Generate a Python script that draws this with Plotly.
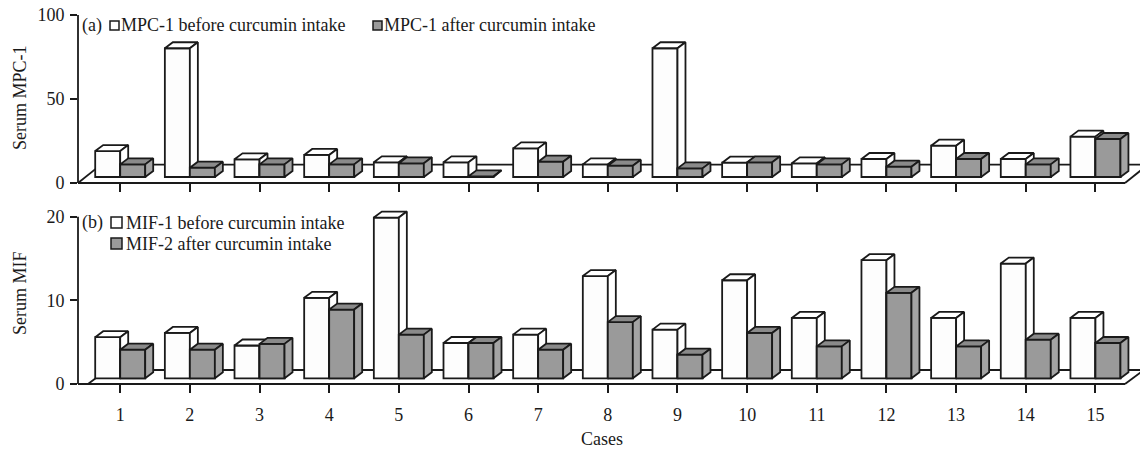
import plotly.graph_objects as go

# ---------------- data ----------------
cases = list(range(1, 16))
case_labels = [str(c) for c in cases]

mpc_before = [19.0, 80.2, 14.1, 16.7, 12.3, 12.3, 20.6, 11.1, 80.2, 12.1, 11.7, 14.3, 22.2, 14.3, 27.6]
mpc_after = [11.1, 9.1, 11.1, 11.1, 11.7, 4.0, 12.7, 10.3, 8.7, 12.3, 11.1, 9.7, 14.3, 11.1, 26.2]
mif_before = [5.6, 6.1, 4.6, 10.3, 19.9, 4.9, 5.9, 12.9, 6.5, 12.4, 7.9, 14.8, 7.9, 14.4, 7.9]
mif_after = [4.1, 4.1, 4.8, 8.9, 5.9, 4.9, 4.1, 7.4, 3.5, 6.1, 4.5, 10.9, 4.5, 5.3, 4.9]

mpc_ticks = [0, 50, 100]
mif_ticks = [0, 10, 20]

# ---------------- style / geometry ----------------
PAGE_OFF = 0          # body margin removed by the post script below
WIN_W, WIN_H = 1140, 449
W, H = WIN_W - PAGE_OFF, WIN_H - PAGE_OFF

FONT = "Liberation Serif"
INK = "#1a1a1a"
WHITE = "#fdfdfd"
GRAY_FRONT = "#9a9a9a"
GRAY_TOP = "#8a8a8a"
GRAY_SIDE = "#a4a4a4"
LW = 1.8

# window-pixel layout constants
AX_X = 78.0          # y axis
CASE1_PX = 120.2     # case 1
CASE_STEP = 69.66    # pixels per case
BAR_PX = 25.0        # front face width of one bar
DEPTH_DX, DEPTH_DY = 8.0, 6.0
FLOOR_RIGHT_PX = 1125.0

x_lo = 1 - (CASE1_PX - AX_X) / CASE_STEP
x_hi = 1 + (WIN_W - CASE1_PX) / CASE_STEP
bw = BAR_PX / CASE_STEP
ddx = DEPTH_DX / CASE_STEP


def px(xp):
    return (xp - PAGE_OFF) / W


def py(yp):
    return 1 - (yp - PAGE_OFF) / H


panels = [
    dict(xa="x", ya="y", before=mpc_before, after=mpc_after, ticks=mpc_ticks,
         zero_px=183.0, topval_px=15.0, dom_top_px=15.0, base_px=6.0,
         floor_left_px=78.0, floor_dx=23.0, floor_dy=18.4, labels=False),
    dict(xa="x2", ya="y2", before=mif_before, after=mif_after, ticks=mif_ticks,
         zero_px=384.0, topval_px=216.7, dom_top_px=200.0, base_px=5.7,
         floor_left_px=88.0, floor_dx=18.7, floor_dy=14.0, labels=True),
]

fig = go.Figure()
shapes = []
annotations = []
layout_axes = {}


def add_poly(xs, ys, pts):
    for a, b in pts + [pts[0]]:
        xs.append(a)
        ys.append(b)
    xs.append(None)
    ys.append(None)


for k, p in enumerate(panels):
    ppu = (p["zero_px"] - p["topval_px"]) / p["ticks"][-1]
    y_top = (p["zero_px"] - p["dom_top_px"]) / ppu
    base = p["base_px"] / ppu
    ddy = DEPTH_DY / ppu
    xa, ya = p["xa"], p["ya"]
    before, after = p["before"], p["after"]

    # front faces as real bars
    fig.add_trace(go.Bar(
        x=cases, y=[v - base for v in before], base=base, width=bw, offset=-bw,
        marker=dict(color=WHITE, line=dict(color=INK, width=LW)),
        xaxis=xa, yaxis=ya, showlegend=False, hoverinfo="x+y",
        name="before curcumin intake"))
    fig.add_trace(go.Bar(
        x=cases, y=[v - base for v in after], base=base, width=bw, offset=0,
        marker=dict(color=GRAY_FRONT, line=dict(color=INK, width=LW)),
        xaxis=xa, yaxis=ya, showlegend=False, hoverinfo="x+y",
        name="after curcumin intake"))

    # 3-D faces, painter order
    groups = {"wt": ([], []), "ws": ([], []), "gf": ([], []), "gt": ([], []), "gs": ([], [])}
    for c, tw, tg in zip(cases, before, after):
        xl, xr, xg = c - bw, c, c + bw
        add_poly(*groups["wt"], [(xl, tw), (xr, tw), (xr + ddx, tw + ddy), (xl + ddx, tw + ddy)])
        add_poly(*groups["ws"], [(xr, base), (xr + ddx, base + ddy), (xr + ddx, tw + ddy), (xr, tw)])
        add_poly(*groups["gf"], [(xr, base), (xg, base), (xg, tg), (xr, tg)])
        add_poly(*groups["gt"], [(xr, tg), (xg, tg), (xg + ddx, tg + ddy), (xr + ddx, tg + ddy)])
        add_poly(*groups["gs"], [(xg, base), (xg + ddx, base + ddy), (xg + ddx, tg + ddy), (xg, tg)])
    fills = {"wt": "#ffffff", "ws": "#ffffff", "gf": GRAY_FRONT, "gt": GRAY_TOP, "gs": GRAY_SIDE}
    for key in ["wt", "ws", "gf", "gt", "gs"]:
        xs, ys = groups[key]
        fig.add_trace(go.Scatter(
            x=xs, y=ys, mode="lines", fill="toself", fillcolor=fills[key],
            line=dict(color=INK, width=LW), xaxis=xa, yaxis=ya,
            showlegend=False, hoverinfo="skip"))

    # axes
    dom_y = [py(p["zero_px"]), py(p["dom_top_px"])]
    xkey = "xaxis" if k == 0 else "xaxis2"
    ykey = "yaxis" if k == 0 else "yaxis2"
    layout_axes[xkey] = dict(
        domain=[px(AX_X), 1], range=[x_lo, x_hi], anchor=ya, automargin=False,
        tickmode="array", tickvals=cases, ticktext=case_labels,
        showticklabels=p["labels"], ticks="outside", ticklen=8, tickwidth=1.5,
        tickcolor=INK, showgrid=False, zeroline=False, showline=False,
        tickfont=dict(family=FONT, size=18, color=INK), ticklabelstandoff=6,
        ticklabeloverflow="allow", fixedrange=True)
    layout_axes[ykey] = dict(
        domain=dom_y, range=[0, y_top], anchor=xa, automargin=False,
        tickmode="array", tickvals=p["ticks"], ticks="outside", ticklen=7,
        tickwidth=1.5, tickcolor=INK, showgrid=False, zeroline=False, showline=False,
        tickfont=dict(family=FONT, size=18, color=INK), ticklabelstandoff=2,
        ticklabeloverflow="allow", fixedrange=True)

    # y axis line
    shapes.append(dict(type="line", xref=xa + " domain", yref=ya, x0=0, x1=0,
                       y0=0, y1=p["ticks"][-1], line=dict(color=INK, width=LW)))

    # floor outline (in domain fractions)
    span_x = WIN_W - AX_X
    span_y = p["zero_px"] - p["dom_top_px"]

    def fx(xp):
        return (xp - AX_X) / span_x

    def fy(off):
        return off / span_y

    fl, fr, fdx, fdy = p["floor_left_px"], FLOOR_RIGHT_PX, p["floor_dx"], p["floor_dy"]
    segs = [
        ((AX_X, 0), (fr, 0)),
        ((fl, 0), (fl + fdx, fdy)),
        ((fl + fdx, fdy), (fr + fdx, fdy)),
        ((fr, 0), (fr + fdx, fdy)),
    ]
    for (a0, b0), (a1, b1) in segs:
        shapes.append(dict(type="line", xref=xa + " domain", yref=ya + " domain",
                           x0=fx(a0), y0=fy(b0), x1=fx(a1), y1=fy(b1),
                           layer="below", line=dict(color=INK, width=LW)))


def text(x, y, s, anchor="left", angle=0):
    annotations.append(dict(
        x=px(x), y=py(y), xref="paper", yref="paper", text=s, showarrow=False,
        xanchor=anchor, yanchor="middle", textangle=angle,
        font=dict(family=FONT, size=18, color=INK)))


def square(x0, y0, x1, y1, color):
    shapes.append(dict(type="rect", xref="paper", yref="paper",
                       x0=px(x0), x1=px(x1), y0=py(y1), y1=py(y0),
                       fillcolor=color, line=dict(color=INK, width=1.5)))


# legends
text(80, 25, "(a)")
square(110, 21, 119, 30, "#ffffff")
text(119, 25, "MPC-1 before curcumin intake")
square(373, 21, 382, 30, GRAY_FRONT)
text(382, 25, "MPC-1 after curcumin intake")

text(80, 222.5, "(b)")
square(111, 217, 122, 228, "#ffffff")
text(124, 222.5, "MIF-1 before curcumin intake")
square(111, 238, 122, 249, GRAY_FRONT)
text(124, 243.5, "MIF-2 after curcumin intake")

# axis titles
text(19.5, 97.5, "Serum MPC-1", anchor="center", angle=-90)
text(20, 293, "Serum MIF", anchor="center", angle=-90)
text(601.7, 439, "Cases", anchor="center")

fig.update_layout(
    width=W, height=H, autosize=False,
    margin=dict(l=0, r=0, t=0, b=0, pad=0, autoexpand=False),
    paper_bgcolor="white", plot_bgcolor="white",
    barmode="overlay", showlegend=False,
    font=dict(family=FONT, size=18, color=INK),
    shapes=shapes, annotations=annotations,
    **layout_axes,
)

fig.write_html(
    "out.html",
    config={"displayModeBar": False, "staticPlot": False},
    post_script="document.body.style.margin='0px';document.body.style.overflow='hidden';",
)
